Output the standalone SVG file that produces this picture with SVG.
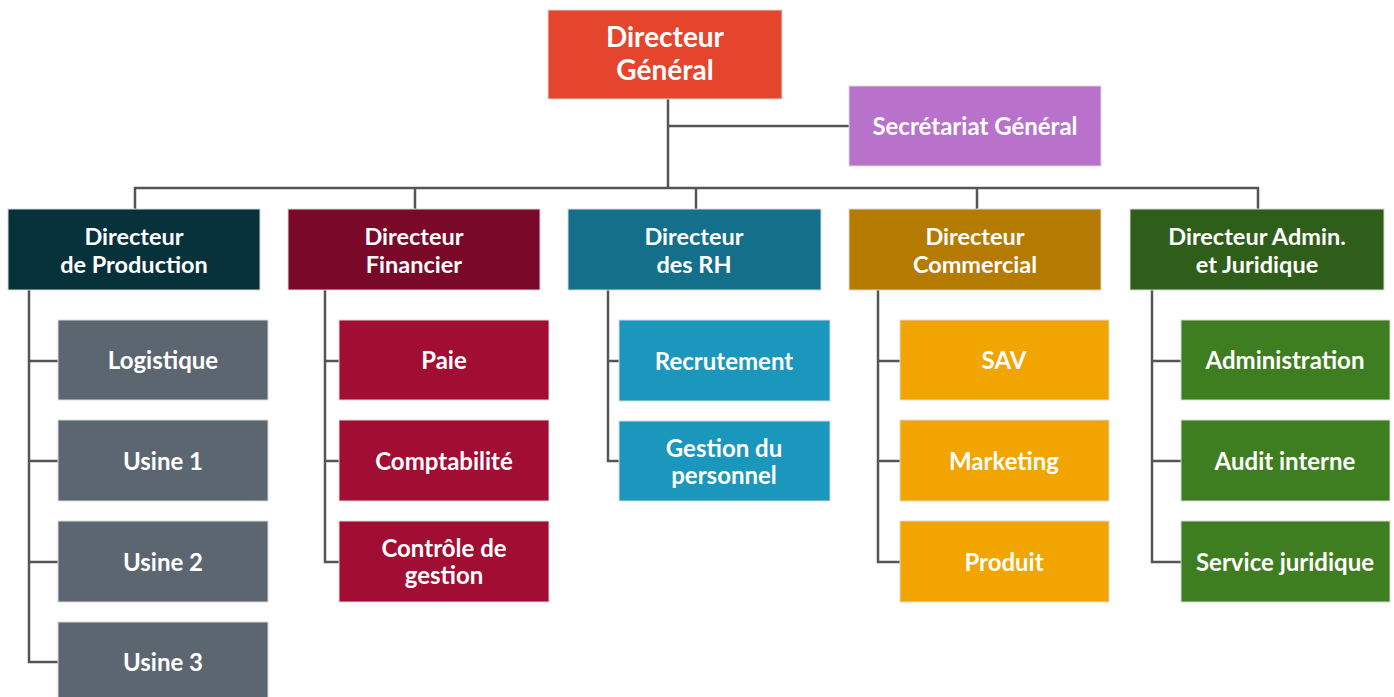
<svg xmlns="http://www.w3.org/2000/svg" width="1394" height="697" viewBox="0 0 1394 697">
<style>
.b{stroke:#d9d9d9;stroke-width:1}
.t{font-family:Lato,"Open Sans",sans-serif;font-weight:700;fill:#fff;text-anchor:middle}
.t1{font-size:28px}
.t2{font-size:23.5px}
.t3{font-size:24px}
.c{fill:none;stroke:#555;stroke-width:2.5}
</style>
<rect width="1394" height="697" fill="#fff"/>
<g id="connectors">
<path class="c" d="M668 99V188M668 126H849M135 209V188H1258V209M415 188V209M696 188V209M977 188V209"/>
<path class="c" d="M29 290V662H58M29 361H58M29 461H58M29 562H58"/>
<path class="c" d="M325 290V562H339M325 361H339M325 461H339"/>
<path class="c" d="M608 290V461H619M608 361H619"/>
<path class="c" d="M878 290V562H900M878 361H900M878 461H900"/>
<path class="c" d="M1152 290V562H1181M1152 361H1181M1152 461H1181"/>
</g>
<g id="dg"><rect class="b" x="548" y="10" width="234" height="89" fill="#E5452C"/>
<text class="t t1" x="665" y="47">Directeur</text><text class="t t1" x="665" y="80">Général</text></g>
<g id="sg"><rect class="b" x="849" y="86" width="252" height="80" fill="#B872CC"/>
<text class="t t3" x="975" y="135">Secrétariat Général</text></g>
<g id="d-prod"><rect class="b" x="8" y="209" width="252" height="81" fill="#07313B"/>
<text class="t t2" x="134" y="245">Directeur</text><text class="t t2" x="134" y="273">de Production</text></g>
<g id="d-fin"><rect class="b" x="288" y="209" width="252" height="81" fill="#7A0828"/>
<text class="t t2" x="414" y="245">Directeur</text><text class="t t2" x="414" y="273">Financier</text></g>
<g id="d-rh"><rect class="b" x="568" y="209" width="253" height="81" fill="#136F8A"/>
<text class="t t2" x="694" y="245">Directeur</text><text class="t t2" x="694" y="273">des RH</text></g>
<g id="d-com"><rect class="b" x="849" y="209" width="252" height="81" fill="#B57B00"/>
<text class="t t2" x="975" y="245">Directeur</text><text class="t t2" x="975" y="273">Commercial</text></g>
<g id="d-adm"><rect class="b" x="1130" y="209" width="254" height="81" fill="#2F5E1A"/>
<text class="t t2" x="1257" y="245">Directeur Admin.</text><text class="t t2" x="1257" y="273">et Juridique</text></g>
<g id="logistique"><rect class="b" x="58" y="320" width="210" height="80" fill="#5C6670"/><text class="t t3" x="163" y="369">Logistique</text></g>
<g id="usine1"><rect class="b" x="58" y="420" width="210" height="81" fill="#5C6670"/><text class="t t3" x="163" y="470">Usine 1</text></g>
<g id="usine2"><rect class="b" x="58" y="521" width="210" height="81" fill="#5C6670"/><text class="t t3" x="163" y="571">Usine 2</text></g>
<g id="usine3"><rect class="b" x="58" y="622" width="210" height="81" fill="#5C6670"/><text class="t t3" x="163" y="671">Usine 3</text></g>
<g id="paie"><rect class="b" x="339" y="320" width="210" height="80" fill="#A20D33"/><text class="t t3" x="444" y="369">Paie</text></g>
<g id="compta"><rect class="b" x="339" y="420" width="210" height="81" fill="#A20D33"/><text class="t t3" x="444" y="470">Comptabilité</text></g>
<g id="cdg"><rect class="b" x="339" y="521" width="210" height="81" fill="#A20D33"/><text class="t t3" x="444" y="557">Contrôle de</text><text class="t t3" x="444" y="584">gestion</text></g>
<g id="recrutement"><rect class="b" x="619" y="320" width="211" height="81" fill="#1B96BD"/><text class="t t3" x="724" y="370">Recrutement</text></g>
<g id="gdp"><rect class="b" x="619" y="421" width="211" height="80" fill="#1B96BD"/><text class="t t3" x="724" y="457">Gestion du</text><text class="t t3" x="724" y="484">personnel</text></g>
<g id="sav"><rect class="b" x="900" y="320" width="209" height="80" fill="#F2A500"/><text class="t t3" x="1004" y="369">SAV</text></g>
<g id="marketing"><rect class="b" x="900" y="420" width="209" height="81" fill="#F2A500"/><text class="t t3" x="1004" y="470">Marketing</text></g>
<g id="produit"><rect class="b" x="900" y="521" width="209" height="81" fill="#F2A500"/><text class="t t3" x="1004" y="571">Produit</text></g>
<g id="administration"><rect class="b" x="1181" y="320" width="209" height="80" fill="#3F7D21"/><text class="t t3" x="1285" y="369">Administration</text></g>
<g id="audit"><rect class="b" x="1181" y="420" width="209" height="81" fill="#3F7D21"/><text class="t t3" x="1285" y="470">Audit interne</text></g>
<g id="juridique"><rect class="b" x="1181" y="521" width="209" height="81" fill="#3F7D21"/><text class="t t3" x="1285" y="571">Service juridique</text></g>
</svg>
